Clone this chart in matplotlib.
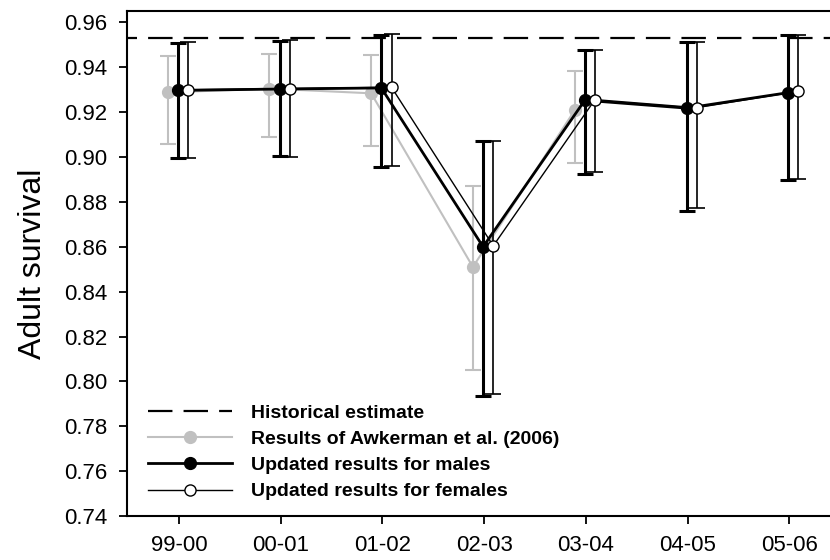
import numpy as np
import matplotlib
matplotlib.use('Agg')
from matplotlib import pyplot as plt

plt.rcParams['font.family'] = ['Liberation Sans', 'DejaVu Sans']

years = ['99-00', '00-01', '01-02', '02-03', '03-04', '04-05', '05-06']
historical = 0.953

# Awkerman et al. (2006), first five seasons only
awk = [0.9288, 0.9305, 0.9284, 0.851, 0.9208]
awk_lo = [0.9058, 0.909, 0.9049, 0.8049, 0.8973]
awk_hi = [0.9449, 0.946, 0.9453, 0.887, 0.9383]

male = [0.9297, 0.9303, 0.9308, 0.860, 0.9253, 0.9218, 0.9287]
male_lo = [0.8994, 0.9006, 0.8957, 0.7936, 0.8926, 0.8758, 0.8898]
male_hi = [0.951, 0.9517, 0.9545, 0.9071, 0.9478, 0.9512, 0.9542]

female = [0.930, 0.9305, 0.9311, 0.8604, 0.9256, 0.922, 0.9293]
female_lo = [0.8997, 0.900, 0.896, 0.7945, 0.8932, 0.8772, 0.8902]
female_hi = [0.9511, 0.952, 0.9547, 0.9071, 0.9478, 0.9512, 0.9542]

x = np.arange(len(years))
xa = x[:len(awk)] - 0.11
xm = x - 0.01
xf = x + 0.09

fig = plt.figure(figsize=(8.3, 5.6), dpi=100)
ax = fig.add_axes([0.153, 0.0786, 0.847, 0.9014])

grey = '#c0c0c0'

# historical estimate
hist, = ax.plot([-1, 8], [historical, historical], color='black', lw=1.6,
                linestyle=(0, (11, 5)), label='Historical estimate', zorder=1)

# Awkerman
a = np.array(awk)
ax.errorbar(xa, a, yerr=[a - np.array(awk_lo), np.array(awk_hi) - a], fmt='none',
            ecolor=grey, elinewidth=1.5, capsize=6, capthick=1.5, zorder=2)
la, = ax.plot(xa, a, color=grey, lw=1.5, marker='o', ms=8.5, mfc=grey, mec=grey,
              label='Results of Awkerman et al. (2006)', zorder=2)

# males
m = np.array(male)
ax.errorbar(xm, m, yerr=[m - np.array(male_lo), np.array(male_hi) - m], fmt='none',
            ecolor='black', elinewidth=2.2, capsize=6, capthick=2.2, zorder=3)
lm, = ax.plot(xm, m, color='black', lw=2.0, marker='o', ms=8.5, mfc='black', mec='black',
              label='Updated results for males', zorder=4)

# females
f = np.array(female)
ax.errorbar(xf, f, yerr=[f - np.array(female_lo), np.array(female_hi) - f], fmt='none',
            ecolor='black', elinewidth=1.2, capsize=6, capthick=1.2, zorder=3)
lf, = ax.plot(xf, f, color='black', lw=1.0, marker='o', ms=8, mfc='white', mec='black',
              mew=1.0, label='Updated results for females', zorder=5)

ax.set_xlim(-0.51, 6.4)
ax.set_ylim(0.74, 0.965)
ax.set_xticks(x)
ax.set_xticklabels(years, fontsize=16)
ax.set_yticks(np.arange(0.74, 0.961, 0.02))
ax.set_yticklabels(['%.2f' % v for v in np.arange(0.74, 0.961, 0.02)], fontsize=16)
ax.tick_params(direction='out', length=6, width=1.3, pad=8)
ax.set_ylabel('Adult survival', fontsize=23, labelpad=12)

for s in ['left', 'bottom', 'top']:
    ax.spines[s].set_linewidth(1.5)
ax.spines['right'].set_visible(False)

leg = ax.legend(handles=[hist, la, lm, lf], loc='lower left', frameon=False,
                prop={'weight': 'bold', 'size': 14}, handlelength=4.3,
                labelspacing=0.44, handletextpad=1.0, borderaxespad=0.4,
                bbox_to_anchor=(0.0077, 0.0))

fig.savefig('out.png', dpi=100)
